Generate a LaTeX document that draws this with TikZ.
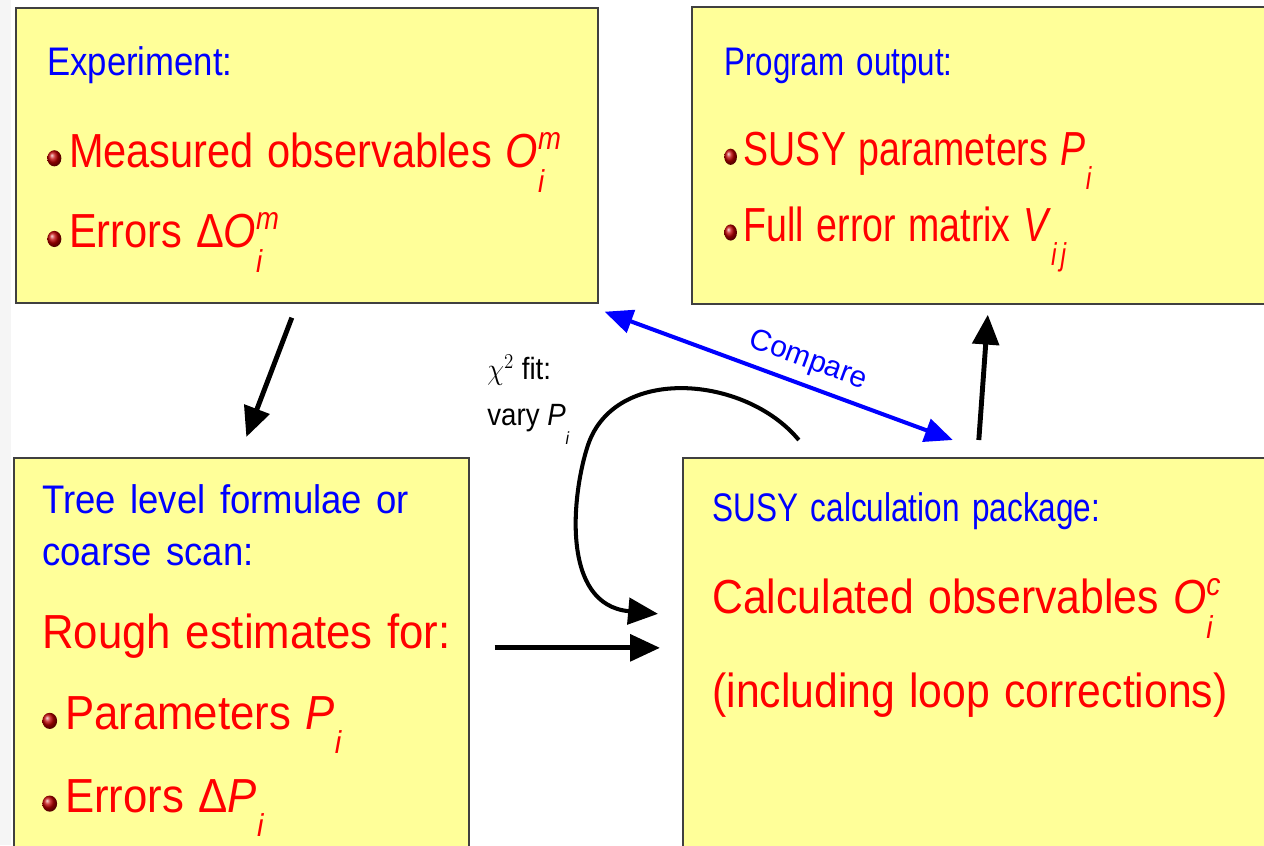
\documentclass[tikz,border=0pt]{standalone}
\usepackage{fontspec}
\setmainfont{Liberation Sans}
\usetikzlibrary{arrows.meta}
\definecolor{boxfill}{RGB}{255,255,153}
\definecolor{headblue}{RGB}{0,0,255}
\definecolor{itemred}{RGB}{255,0,0}
\newcommand{\headfont}{\fontsize{22.7}{29.5}\selectfont\color{headblue}}
\newcommand{\itemfont}{\fontsize{27.2}{29.5}\selectfont\lineskiplimit=-40pt\relax}
\newcommand{\subfont}{\fontsize{18}{18}\selectfont\itshape}
\newcommand{\bul}{\tikz[x=1pt, y=1pt, baseline=-5.1pt]\shade[ball color=red!75!black] (0,0) circle (4.6pt);\hspace{5pt}}
\newcommand{\idx}[2]{\rlap{\raisebox{-0.52em}{\subfont #2}}\raisebox{0.38em}{\subfont #1}}
\newcommand{\low}[1]{\raisebox{-0.5em}{\subfont #1}}
\tikzset{
    box/.style={draw=black!75, line width=1pt, fill=boxfill, anchor=north west, inner sep=0pt},
    boxtext/.style={anchor=north west, inner sep=0pt, align=left, text=itemred,
        font=\itemfont, transform shape},
    fitlabel/.style={anchor=north west, inner sep=0pt, align=left,
        font=\fontsize{17.5}{26}\selectfont, xscale=0.9, transform shape},
    flow/.style={-{Triangle[length=17pt,width=15pt]}, line width=2.8pt},
    fitflow/.style={-{Triangle[length=17pt,width=15pt]}, line width=2.3pt},
    cmpflow/.style={{Triangle[length=16pt,width=13.5pt]}-{Triangle[length=16pt,width=13.5pt]},
        line width=2.3pt, draw=headblue},
    cmplabel/.style={text=headblue, font=\fontsize{17}{20}\selectfont, inner sep=1pt}
}
\begin{document}
\begin{tikzpicture}[x=0.02cm, y=-0.02cm]
\useasboundingbox (0,0) rectangle (1264,845);
\clip (0,0) rectangle (1264,845);
\fill[black!4] (0,0) rectangle (11,845);

% the four boxes
\node[box, minimum width=11.64cm, minimum height=5.9cm] (exp) at (15,7) {};
\node[box, minimum width=12.2cm, minimum height=5.94cm] (out) at (691,6) {};
\node[box, minimum width=9.1cm, minimum height=8.4cm] (tree) at (13,457) {};
\node[box, minimum width=12.16cm, minimum height=8.4cm] (calc) at (682,457) {};

\node[boxtext, text width=13cm, xscale=0.87] (exptxt) at ([shift={(32,39.3)}]exp.north west) {%
    {\headfont Experiment:}\\[22.7pt]
    \bul Measured observables \textit{O}\idx{m}{i}\\[16.4pt]
    \bul Errors Δ\textit{O}\idx{m}{i}
};
\node[boxtext, text width=13cm, xscale=0.785] (outtxt) at ([shift={(33,41.3)}]out.north west) {%
    {\headfont Program output:}\\[22.1pt]
    \bul SUSY parameters \textit{P}\low{i}\\[13.6pt]
    \bul Full error matrix \textit{V}\low{i\,j}
};
\node[boxtext, text width=10cm, xscale=0.915] (treetxt) at ([shift={(29,27.3)}]tree.north west) {%
    {\headfont Tree level formulae or}\\
    {\headfont coarse scan:}\\[17.6pt]
    Rough estimates for:\\[17pt]
    \bul Parameters \textit{P}\low{i}\\[17.6pt]
    \bul Errors Δ\textit{P}\low{i}
};
\node[boxtext, text width=13cm, xscale=0.894] (calctxt) at ([shift={(30,35.3)}]calc.north west) {%
    {\headfont\scalebox{0.884}[1]{SUSY calculation package:}}\\[22.7pt]
    Calculated observables \textit{O}\idx{c}{i}\\[24.4pt]
    (including loop corrections)
};

\node[fitlabel] (fitlbl) at (487,355) {%
    $\chi^2$ fit:\\
    vary \textit{P}\raisebox{-0.6em}{\fontsize{10}{10}\selectfont\itshape i}
};

% connectors
\draw[flow] ([shift={(-15,14)}]exp.south) -- ([shift={(5,-20)}]tree.north);
\draw[flow] ([shift={(25,-20)}]tree.east) -- ([shift={(-22,-20)}]calc.west);
\draw[flow] ([shift={(-8,-17)}]calc.north) -- ([shift={(-9,10)}]out.south);
\draw[cmpflow] ([shift={(6,8)}]exp.south east) --
    node[cmplabel, pos=0.56, sloped, above=4pt] (cmplbl) {Compare}
    ([shift={(-34,-17)}]calc.north);
\draw[fitflow] ([shift={(-188,-17)}]calc.north) .. controls (745,375) and (615,365) ..
    (588,445) .. controls (572,493) and (560,605) .. ([shift={(-24,-54)}]calc.west);
\end{tikzpicture}
\end{document}
